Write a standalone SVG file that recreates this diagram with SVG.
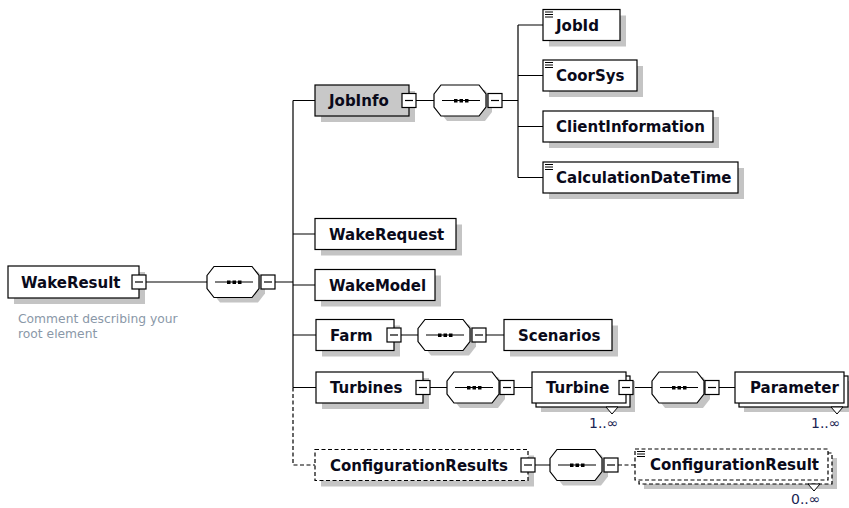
<svg xmlns="http://www.w3.org/2000/svg" xmlns:xlink="http://www.w3.org/1999/xlink" width="849" height="508" viewBox="0 0 849 508">
<style>
.box{fill:#fff;stroke:#000;stroke-width:1.2}
.gray{fill:#c8c8c8}
.shadow{fill:#c4c4c4;stroke:none}
.dash{stroke-dasharray:4 2.5}
.ln{fill:none;stroke:#000;stroke-width:1.2}
.t{font-family:"DejaVu Sans",Verdana,sans-serif;font-weight:bold;font-size:15px;fill:#0a0a1a}
.occ{font-family:"DejaVu Sans",Verdana,sans-serif;font-size:14px;fill:#1a2452}
.cmt{font-family:"DejaVu Sans",Verdana,sans-serif;font-size:12.3px;fill:#8a98a8}
.ico{stroke:#000;stroke-width:1}
</style>
<defs>
<g id="minus">
<rect x="0" y="0" width="14" height="14" fill="#fff" stroke="#000" stroke-width="1.2"/>
<line x1="3" y1="7" x2="11" y2="7" stroke="#000" stroke-width="1.2"/>
</g>
<g id="seq">
<polygon class="shadow" points="6,14 13,5 51,5 58,14 58,27 51,36 13,36 6,27"/>
<polygon points="0,9 7,0 45,0 52,9 52,22 45,31 7,31 0,22" fill="#fff" stroke="#000" stroke-width="1.2"/>
<line x1="8" y1="15.5" x2="46" y2="15.5" stroke="#000" stroke-width="1.2"/>
<rect x="20" y="14" width="3.5" height="3.5" fill="#000"/>
<rect x="25.5" y="14" width="3.5" height="3.5" fill="#000"/>
<rect x="31" y="14" width="3.5" height="3.5" fill="#000"/>
</g>
<g id="icon">
<line class="ico" x1="0" y1="0.5" x2="8" y2="0.5"/>
<line class="ico" x1="0" y1="3" x2="8" y2="3"/>
<line class="ico" x1="0" y1="5.5" x2="8" y2="5.5"/>
</g>
<g id="tri">
<polygon points="0,0 12,0 6,7" fill="#fff" stroke="#000" stroke-width="1"/>
</g>
</defs>

<g id="connectors">
<path class="ln" d="M146 282H207 M275 282H293 M293 100.5V387.5 M293 100.5H315 M293 234H315 M293 285H315 M293 335H316 M293 387.5H316 M416 100.5H434 M502 100.5H518 M518 25V177.5 M518 25H543 M518 75.5H543 M518 126.5H543 M518 177.5H543 M401 335H418 M486 335H504 M430 387.5H447 M514 387.5H532 M633 387.5H652 M719 387.5H735 M535 465H550"/>
<path class="ln dash" d="M293 387.5V465H315 M618 465H635"/>
</g>

<g id="seq1"><use xlink:href="#seq" x="207" y="266.5"/><use xlink:href="#minus" x="261" y="275"/></g>
<g id="seq2"><use xlink:href="#seq" x="434" y="85"/><use xlink:href="#minus" x="488" y="93.5"/></g>
<g id="seq3"><use xlink:href="#seq" x="418" y="319.5"/><use xlink:href="#minus" x="472" y="328"/></g>
<g id="seq4"><use xlink:href="#seq" x="447" y="372"/><use xlink:href="#minus" x="500" y="380.5"/></g>
<g id="seq5"><use xlink:href="#seq" x="652" y="372"/><use xlink:href="#minus" x="705" y="380.5"/></g>
<g id="seq6"><use xlink:href="#seq" x="550" y="449.5"/><use xlink:href="#minus" x="604" y="458"/></g>

<g id="WakeResult">
<rect class="shadow" x="14" y="272" width="131" height="32"/>
<rect class="box" x="8" y="266" width="131" height="32"/>
<text class="t" x="21" y="287.5">WakeResult</text>
<use xlink:href="#minus" x="132" y="275"/>
<text class="cmt" x="18" y="323">Comment describing your</text>
<text class="cmt" x="18" y="338">root element</text>
</g>

<g id="JobInfo">
<rect class="shadow" x="321" y="91" width="94" height="31"/>
<rect class="box gray" x="315" y="85" width="94" height="31"/>
<text class="t" x="329" y="106">JobInfo</text>
<use xlink:href="#minus" x="402" y="93.5"/>
</g>

<g id="JobId">
<rect class="shadow" x="549" y="15.5" width="77" height="31"/>
<rect class="box" x="543" y="9.5" width="77" height="31"/>
<use xlink:href="#icon" x="545" y="11.5"/>
<text class="t" x="556" y="30.5">JobId</text>
</g>

<g id="CoorSys">
<rect class="shadow" x="549" y="66" width="94" height="31"/>
<rect class="box" x="543" y="60" width="94" height="31"/>
<use xlink:href="#icon" x="545" y="62"/>
<text class="t" x="556" y="81">CoorSys</text>
</g>

<g id="ClientInformation">
<rect class="shadow" x="549" y="117" width="170" height="31"/>
<rect class="box" x="543" y="111" width="170" height="31"/>
<text class="t" x="556" y="132">ClientInformation</text>
</g>

<g id="CalculationDateTime">
<rect class="shadow" x="549" y="168" width="195" height="31"/>
<rect class="box" x="543" y="162" width="195" height="31"/>
<use xlink:href="#icon" x="545" y="164"/>
<text class="t" x="556" y="183">CalculationDateTime</text>
</g>

<g id="WakeRequest">
<rect class="shadow" x="321" y="224.5" width="141" height="31"/>
<rect class="box" x="315" y="218.5" width="141" height="31"/>
<text class="t" x="329" y="239.5">WakeRequest</text>
</g>

<g id="WakeModel">
<rect class="shadow" x="321" y="275.5" width="120" height="31"/>
<rect class="box" x="315" y="269.5" width="120" height="31"/>
<text class="t" x="329" y="290.5">WakeModel</text>
</g>

<g id="Farm">
<rect class="shadow" x="322" y="325.5" width="78" height="31"/>
<rect class="box" x="316" y="319.5" width="78" height="31"/>
<text class="t" x="330" y="340.5">Farm</text>
<use xlink:href="#minus" x="387" y="328"/>
</g>

<g id="Scenarios">
<rect class="shadow" x="510" y="325.5" width="108" height="31"/>
<rect class="box" x="504" y="319.5" width="108" height="31"/>
<text class="t" x="518" y="340.5">Scenarios</text>
</g>

<g id="Turbines">
<rect class="shadow" x="322" y="378" width="107" height="31"/>
<rect class="box" x="316" y="372" width="107" height="31"/>
<text class="t" x="330" y="393">Turbines</text>
<use xlink:href="#minus" x="416" y="380.5"/>
</g>

<g id="Turbine">
<rect class="shadow" x="541" y="381" width="94" height="31"/>
<rect class="box" x="536" y="376" width="94" height="31"/>
<rect class="box" x="532" y="372" width="94" height="31"/>
<text class="t" x="546" y="393">Turbine</text>
<use xlink:href="#minus" x="619" y="380.5"/>
<use xlink:href="#tri" x="606" y="407"/>
<text class="occ" x="589" y="428">1..∞</text>
</g>

<g id="Parameter">
<rect class="shadow" x="744" y="381" width="109" height="31"/>
<rect class="box" x="739" y="376" width="109" height="31"/>
<rect class="box" x="735" y="372" width="109" height="31"/>
<text class="t" x="750" y="393">Parameter</text>
<use xlink:href="#tri" x="831" y="407"/>
<text class="occ" x="811" y="428">1..∞</text>
</g>

<g id="ConfigurationResults">
<rect class="shadow" x="321" y="455.5" width="213" height="31"/>
<rect class="box dash" x="315" y="449.5" width="213" height="31"/>
<text class="t" x="330" y="470.5">ConfigurationResults</text>
<use xlink:href="#minus" x="521" y="458"/>
</g>

<g id="ConfigurationResult">
<rect class="shadow" x="644" y="458" width="193" height="31"/>
<rect class="box dash" x="639" y="453" width="193" height="31"/>
<rect class="box dash" x="635" y="449" width="193" height="31"/>
<use xlink:href="#icon" x="637" y="451"/>
<text class="t" x="650" y="470">ConfigurationResult</text>
<use xlink:href="#tri" x="808" y="484"/>
<text class="occ" x="791" y="504">0..∞</text>
</g>
</svg>
